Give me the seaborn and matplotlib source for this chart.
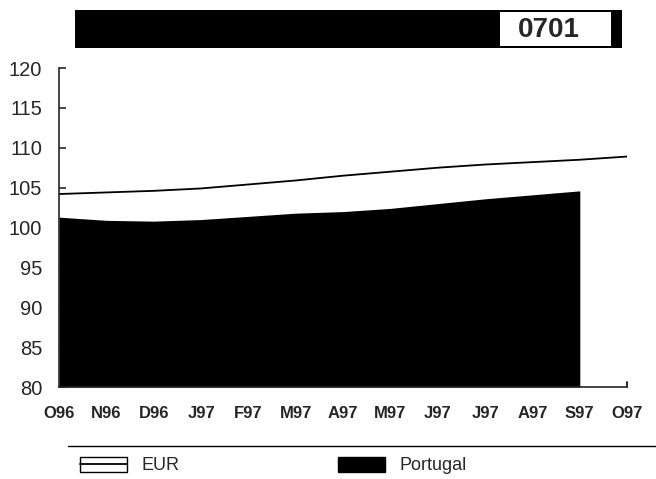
import matplotlib
matplotlib.use("Agg")
import matplotlib.pyplot as plt
import seaborn as sns
import pandas as pd
from matplotlib.patches import Rectangle, Patch
from matplotlib.lines import Line2D

# Month labels (Oct 96 .. Oct 97)
months = ["O96", "N96", "D96", "J97", "F97", "M97", "A97",
          "M97", "J97", "J97", "A97", "S97", "O97"]

# Index values
eur = [104.2, 104.4, 104.6, 104.9, 105.4, 105.9, 106.5,
       107.0, 107.5, 107.9, 108.2, 108.5, 108.9]
portugal = [101.3, 100.9, 100.8, 101.0, 101.4, 101.8, 102.0,
            102.4, 103.0, 103.6, 104.1, 104.6]

y_ticks = [80, 85, 90, 95, 100, 105, 110, 115, 120]

sns.set_style("ticks")
plt.rcParams["font.family"] = ["Liberation Sans", "DejaVu Sans"]

df_eur = pd.DataFrame({"pos": range(len(eur)), "value": eur})
df_pt = pd.DataFrame({"pos": range(len(portugal)), "value": portugal})

fig = plt.figure(figsize=(6.56, 4.79), dpi=100)
ax = fig.add_axes([0.09, 0.192, 0.866, 0.666])

# Portugal as a filled area down to the axis floor
ax.fill_between(df_pt["pos"], y_ticks[0], df_pt["value"], color="black", lw=0)
sns.lineplot(data=df_eur, x="pos", y="value", ax=ax, color="black", lw=1.3)

ax.set_xlim(0, len(months) - 1)
ax.set_ylim(y_ticks[0], y_ticks[-1])
ax.set_xticks(range(len(months)))
ax.set_xticklabels(months, fontweight="bold", fontsize=12)
ax.set_yticks(y_ticks)
ax.set_yticklabels([str(v) for v in y_ticks], fontsize=14.5)
ax.set_xlabel("")
ax.set_ylabel("")
ax.tick_params(axis="y", direction="in", length=5, width=1.2, pad=12)
ax.tick_params(axis="x", length=0, pad=14)
for side in ["top", "right"]:
    ax.spines[side].set_visible(False)
ax.spines["left"].set_linewidth(1.2)
ax.spines["bottom"].set_linewidth(1.2)
ax.plot([len(months) - 1, len(months) - 1], [80, 80.6], color="black", lw=1.2, clip_on=False)

# Header banner
fig.patches.append(Rectangle((0.114, 0.9), 0.834, 0.079, transform=fig.transFigure,
                             facecolor="black", edgecolor="none"))
fig.patches.append(Rectangle((0.762, 0.905), 0.17, 0.069, transform=fig.transFigure,
                             facecolor="white", edgecolor="none"))
fig.text(0.837, 0.938, "0701", ha="center", va="center", fontsize=20, fontweight="bold")

# Separator line above legend
fig.add_artist(Line2D([0.104, 1.0], [0.069, 0.069], transform=fig.transFigure,
                      color="black", lw=1))

eur_handle = (Patch(facecolor="white", edgecolor="black", lw=1),
              Line2D([], [], color="black", lw=1.3))
pt_handle = Patch(facecolor="black", edgecolor="black")
fig.legend([eur_handle, pt_handle], ["EUR", "Portugal"], ncol=2, frameon=False,
           loc="center left", bbox_to_anchor=(0.097, 0.028), fontsize=13,
           handlelength=2.6, handleheight=0.9, columnspacing=8.8, handletextpad=0.8)

fig.savefig("out.png", dpi=100)
